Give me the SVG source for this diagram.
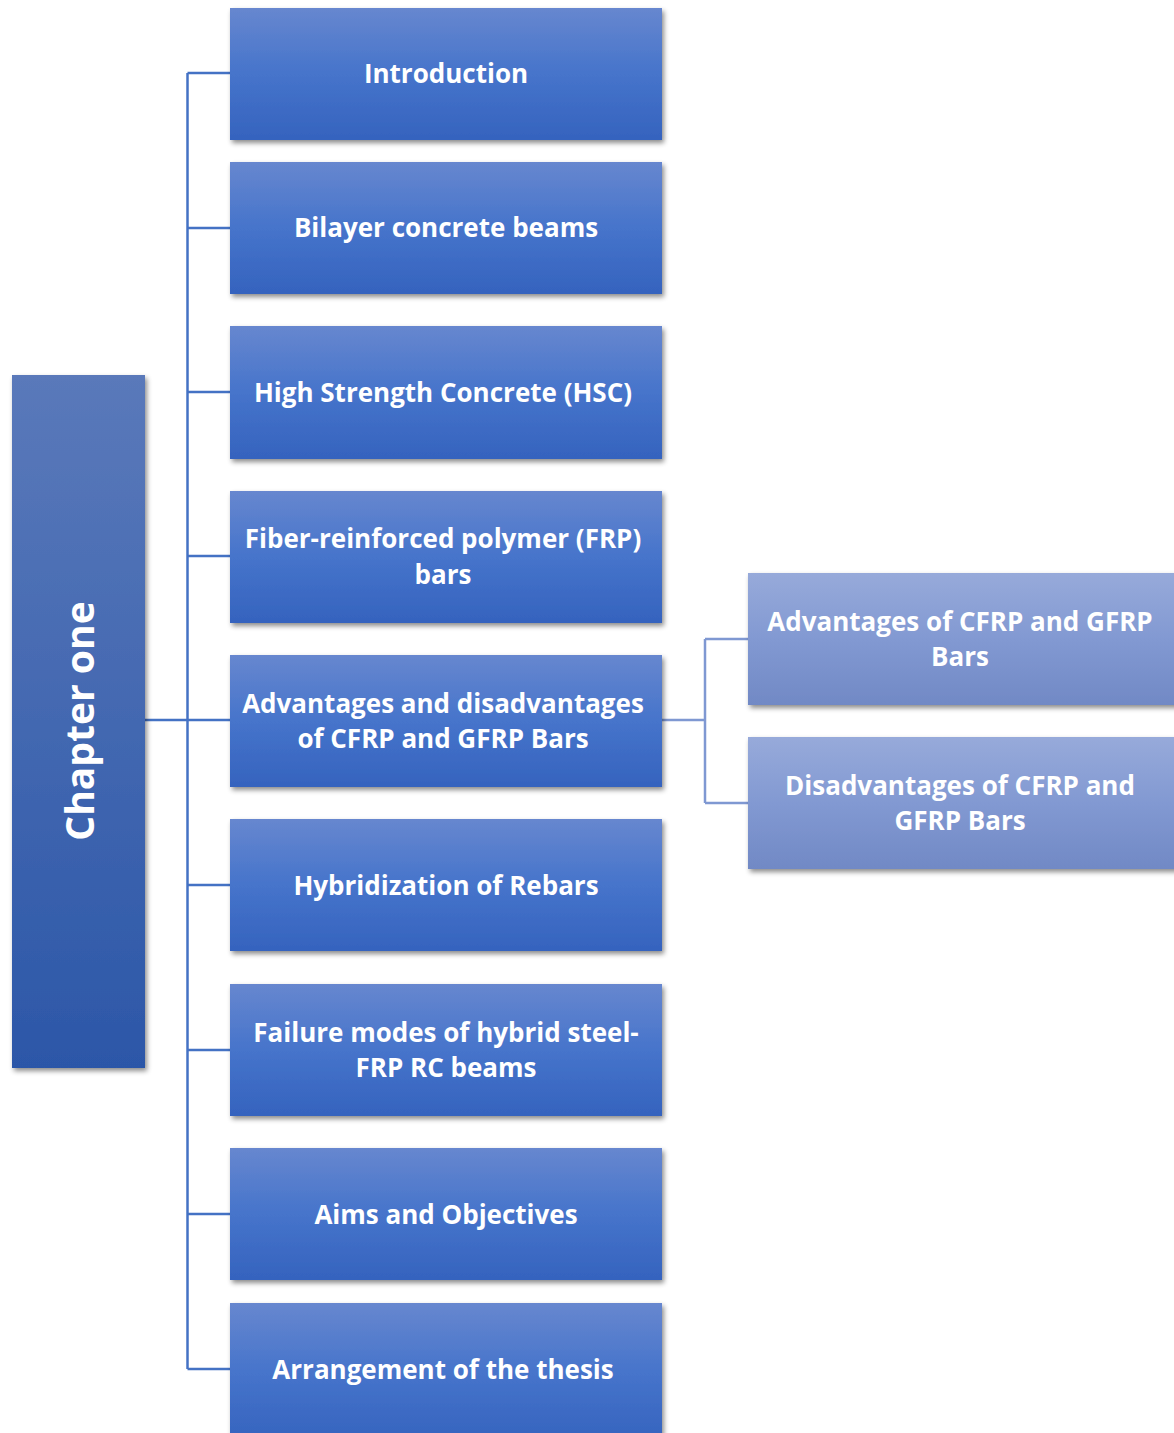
<svg xmlns="http://www.w3.org/2000/svg" width="1174" height="1433" viewBox="0 0 1174 1433">
<defs>
<linearGradient id="gMain" x1="0" y1="0" x2="0" y2="1">
<stop offset="0" stop-color="#6787CF"/>
<stop offset="0.5" stop-color="#4674CB"/>
<stop offset="1" stop-color="#3563BE"/>
</linearGradient>
<linearGradient id="gChap" x1="0" y1="0" x2="0" y2="1">
<stop offset="0" stop-color="#5A79BA"/>
<stop offset="1" stop-color="#2C57A8"/>
</linearGradient>
<linearGradient id="gSub" x1="0" y1="0" x2="0" y2="1">
<stop offset="0" stop-color="#97AADA"/>
<stop offset="0.5" stop-color="#8299D2"/>
<stop offset="1" stop-color="#7189C5"/>
</linearGradient>
<filter id="sh" x="-10%" y="-10%" width="125%" height="130%">
<feDropShadow dx="2" dy="3" stdDeviation="2.5" flood-color="#000" flood-opacity="0.45"/>
</filter>
</defs>
<style>
text{font-family:"Open Sans","Liberation Sans",sans-serif;font-weight:700;fill:#fff;text-anchor:middle;font-size:26px}
.m{fill:url(#gMain);filter:url(#sh)}
.s{fill:url(#gSub);filter:url(#sh)}
.c{fill:url(#gChap);filter:url(#sh)}
.ln{fill:none;stroke:#4472C4;stroke-width:2.5}
.ln2{fill:none;stroke:#7F98D2;stroke-width:2.5}
</style>
<g id="connectors">
<path class="ln" d="M187.5 73 V1369"/>
<path class="ln" d="M145 720 H230"/>
<path class="ln" d="M187.5 73 H230 M187.5 228 H230 M187.5 392 H230 M187.5 556 H230 M187.5 885 H230 M187.5 1050 H230 M187.5 1214 H230 M187.5 1369 H230"/>
<path class="ln2" d="M662 720 H705 M705 639 V803 M705 639 H748 M705 803 H748"/>
</g>
<g id="chapter">
<rect class="c" x="12" y="375" width="133" height="693"/>
<text transform="translate(94 721) rotate(-90)" style="font-size:39px">Chapter one</text>
</g>
<g id="n1"><rect class="m" x="230" y="8" width="432" height="132"/><text x="446" y="83">Introduction</text></g>
<g id="n2"><rect class="m" x="230" y="162" width="432" height="132"/><text x="446" y="237">Bilayer concrete beams</text></g>
<g id="n3"><rect class="m" x="230" y="326" width="432" height="133"/><text x="443" y="402">High Strength Concrete (HSC)</text></g>
<g id="n4"><rect class="m" x="230" y="491" width="432" height="132"/><text x="443" y="548">Fiber-reinforced polymer (FRP)</text><text x="443" y="584">bars</text></g>
<g id="n5"><rect class="m" x="230" y="655" width="432" height="132"/><text x="443" y="713">Advantages and disadvantages</text><text x="443" y="748">of CFRP and GFRP Bars</text></g>
<g id="n6"><rect class="m" x="230" y="819" width="432" height="132"/><text x="446" y="895">Hybridization of Rebars</text></g>
<g id="n7"><rect class="m" x="230" y="984" width="432" height="132"/><text x="446" y="1042">Failure modes of hybrid steel-</text><text x="446" y="1077">FRP RC beams</text></g>
<g id="n8"><rect class="m" x="230" y="1148" width="432" height="132"/><text x="446" y="1224">Aims and Objectives</text></g>
<g id="n9"><rect class="m" x="230" y="1303" width="432" height="140"/><text x="443" y="1379">Arrangement of the thesis</text></g>
<g id="n10"><rect class="s" x="748" y="573" width="436" height="132"/><text x="960" y="631">Advantages of CFRP and GFRP</text><text x="960" y="666">Bars</text></g>
<g id="n11"><rect class="s" x="748" y="737" width="436" height="132"/><text x="960" y="795">Disadvantages of CFRP and</text><text x="960" y="830">GFRP Bars</text></g>
</svg>
